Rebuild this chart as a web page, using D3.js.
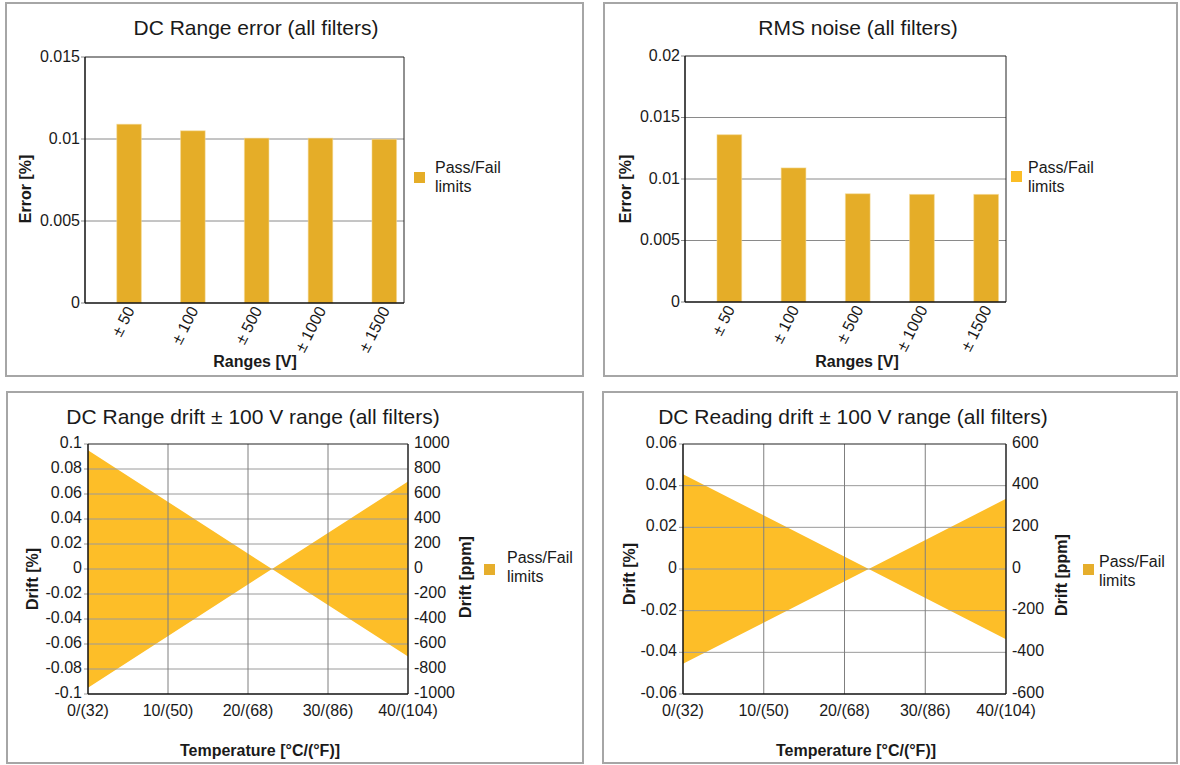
<!DOCTYPE html>
<html><head><meta charset="utf-8">
<script src="https://cdn.jsdelivr.net/npm/d3@7"></script>
<style>
body{margin:0;background:#fff}
svg{display:block}
text{font-family:"Liberation Sans",Arial,sans-serif;fill:#1a1a1a}
</style>
</head><body>
<svg id="c" width="1180" height="765"></svg>
<script>
// ---------- data ----------
const rangeCategories = ["± 50", "± 100", "± 500", "± 1000", "± 1500"];
const dcRangeError = [0.0109, 0.0105, 0.01005, 0.01005, 0.00998];
const rmsNoise = [0.0136, 0.0109, 0.0088, 0.00875, 0.00875];

const errorTicksDC = [0, 0.005, 0.01, 0.015];
const errorTickLabelsDC = ["0", "0.005", "0.01", "0.015"];
const errorTicksRMS = [0, 0.005, 0.01, 0.015, 0.02];
const errorTickLabelsRMS = ["0", "0.005", "0.01", "0.015", "0.02"];

const temperatures = [0, 23, 40];
const tempTicks = [0, 10, 20, 30, 40];
const tempTickLabels = ["0/(32)", "10/(50)", "20/(68)", "30/(86)", "40/(104)"];

const rangeDriftUpper = [0.095, 0, 0.07];
const rangeDriftLower = [-0.095, 0, -0.07];
const readingDriftUpper = [0.0455, 0, 0.0337];
const readingDriftLower = [-0.0455, 0, -0.0337];

const rangeDriftTicks = [0.1, 0.08, 0.06, 0.04, 0.02, 0, -0.02, -0.04, -0.06, -0.08, -0.1];
const rangeDriftTickLabels = ["0.1", "0.08", "0.06", "0.04", "0.02", "0", "-0.02", "-0.04", "-0.06", "-0.08", "-0.1"];
const rangePpmTicks = [1000, 800, 600, 400, 200, 0, -200, -400, -600, -800, -1000];
const rangePpmTickLabels = ["1000", "800", "600", "400", "200", "0", "-200", "-400", "-600", "-800", "-1000"];

const readingDriftTicks = [0.06, 0.04, 0.02, 0, -0.02, -0.04, -0.06];
const readingDriftTickLabels = ["0.06", "0.04", "0.02", "0", "-0.02", "-0.04", "-0.06"];
const readingPpmTicks = [600, 400, 200, 0, -200, -400, -600];
const readingPpmTickLabels = ["600", "400", "200", "0", "-200", "-400", "-600"];

const legendLabel = ["Pass/Fail", "limits"];

// ---------- drawing ----------
const svg = d3.select("#c");
svg.append("rect").attr("width", 1180).attr("height", 765).attr("fill", "#fff");

function panelBox(p) {
  svg.append("rect").attr("x", p.x).attr("y", p.y).attr("width", p.w).attr("height", p.h)
    .attr("fill", "#fff").attr("stroke", "#a6a6a6").attr("stroke-width", 2);
}

function legend(g, lg, color) {
  g.append("rect").attr("x", lg.x).attr("y", lg.y).attr("width", 11).attr("height", 11).attr("fill", color);
  g.append("text").attr("x", lg.tx).attr("y", lg.ty).attr("font-size", 16).text(legendLabel[0]);
  g.append("text").attr("x", lg.tx).attr("y", lg.ty + 19).attr("font-size", 16).text(legendLabel[1]);
}

function barChart(o) {
  panelBox(o.panel);
  const g = svg.append("g");
  const x = d3.scaleBand().domain(rangeCategories).range([o.l, o.r])
    .paddingInner(0.615).paddingOuter(0.3075).align(0.81);
  const y = d3.scaleLinear().domain([0, o.ticks[o.ticks.length - 1]]).range([o.b, o.t]);

  g.selectAll("line.grid").data(o.ticks).join("line")
    .attr("x1", o.l - 4)
    .attr("x2", (d, i) => (i === 0 || i === o.ticks.length - 1) ? o.l : o.r)
    .attr("y1", d => y(d)).attr("y2", d => y(d))
    .attr("stroke", "#8a8a8a").attr("stroke-width", 1);

  g.selectAll("rect.bar").data(o.values).join("rect")
    .attr("x", (d, i) => x(rangeCategories[i]))
    .attr("y", d => y(d))
    .attr("width", x.bandwidth())
    .attr("height", d => o.b - y(d))
    .attr("fill", "#E5AD28")
    .attr("stroke", "#f4d9928a").attr("stroke-width", 1);

  g.append("line").attr("x1", o.l).attr("x2", o.r).attr("y1", o.t).attr("y2", o.t).attr("stroke", "#222").attr("stroke-width", 1);
  g.append("line").attr("x1", o.r).attr("x2", o.r).attr("y1", o.t).attr("y2", o.b).attr("stroke", "#222").attr("stroke-width", 1);
  g.append("line").attr("x1", o.l).attr("x2", o.l).attr("y1", o.t).attr("y2", o.b).attr("stroke", "#111").attr("stroke-width", 1.5);
  g.append("line").attr("x1", o.l).attr("x2", o.r).attr("y1", o.b).attr("y2", o.b).attr("stroke", "#111").attr("stroke-width", 1.5);

  g.selectAll("text.yt").data(o.ticks).join("text")
    .attr("x", o.l - 5).attr("y", d => y(d) + 4.5)
    .attr("text-anchor", "end").attr("font-size", 16)
    .text((d, i) => o.tickLabels[i]);

  g.selectAll("text.xt").data(rangeCategories).join("text")
    .attr("text-anchor", "end").attr("font-size", 16)
    .attr("transform", d => `translate(${x(d) + x.bandwidth() / 2 + 6},${o.b + 7}) rotate(-63)`)
    .text(d => d);

  g.append("text").attr("x", o.titleX).attr("y", 35).attr("text-anchor", "middle").attr("font-size", 21).text(o.title);
  g.append("text").attr("x", o.titleX - 1).attr("y", 367).attr("text-anchor", "middle").attr("font-size", 16)
    .attr("font-weight", "bold").text("Ranges [V]");
  g.append("text").attr("transform", `translate(${o.ylabX},189) rotate(-90)`).attr("text-anchor", "middle")
    .attr("font-size", 16).attr("font-weight", "bold").text("Error [%]");

  legend(g, o.legend, o.legendColor);
}

function driftChart(o) {
  panelBox(o.panel);
  const g = svg.append("g");
  const x = d3.scaleLinear().domain([0, 40]).range([o.l, o.r]);
  const y = d3.scaleLinear().domain([o.ticks[o.ticks.length - 1], o.ticks[0]]).range([o.b, o.t]);
  const y2 = d3.scaleLinear().domain([o.ppmTicks[o.ppmTicks.length - 1], o.ppmTicks[0]]).range([o.b, o.t]);

  const area = d3.area()
    .x((d, i) => x(temperatures[i]))
    .y0((d, i) => y(o.lower[i]))
    .y1((d, i) => y(o.upper[i]));
  g.append("path").datum(o.upper).attr("d", area).attr("fill", "#FDBE28");

  g.selectAll("line.hg").data(o.ticks).join("line")
    .attr("x1", o.l - 4)
    .attr("x2", (d, i) => (i === 0 || i === o.ticks.length - 1) ? o.l : o.r)
    .attr("y1", d => y(d)).attr("y2", d => y(d))
    .attr("stroke", "#9a9a9a").attr("stroke-width", 1);
  g.selectAll("line.vg").data(tempTicks.slice(1, -1)).join("line")
    .attr("x1", d => x(d)).attr("x2", d => x(d))
    .attr("y1", o.t).attr("y2", o.b)
    .attr("stroke", "#7f7f7f").attr("stroke-width", 1);

  g.append("line").attr("x1", o.l).attr("x2", o.r).attr("y1", o.t).attr("y2", o.t).attr("stroke", "#222").attr("stroke-width", 1.2);
  g.append("line").attr("x1", o.r).attr("x2", o.r).attr("y1", o.t).attr("y2", o.b).attr("stroke", "#222").attr("stroke-width", 1.5);
  g.append("line").attr("x1", o.l).attr("x2", o.l).attr("y1", o.t).attr("y2", o.b).attr("stroke", "#111").attr("stroke-width", 1.5);
  g.append("line").attr("x1", o.l).attr("x2", o.r).attr("y1", o.b).attr("y2", o.b).attr("stroke", "#111").attr("stroke-width", 1.5);

  g.selectAll("text.yt").data(o.ticks).join("text")
    .attr("x", o.l - 6).attr("y", d => y(d) + 4)
    .attr("text-anchor", "end").attr("font-size", 16)
    .text((d, i) => o.tickLabels[i]);
  g.selectAll("text.y2t").data(o.ppmTicks).join("text")
    .attr("x", o.r + 6).attr("y", d => y2(d) + 3.5)
    .attr("text-anchor", "start").attr("font-size", 16)
    .text((d, i) => o.ppmTickLabels[i]);
  g.selectAll("text.xt").data(tempTicks).join("text")
    .attr("x", d => x(d)).attr("y", o.b + 22)
    .attr("text-anchor", "middle").attr("font-size", 16)
    .text((d, i) => tempTickLabels[i]);

  g.append("text").attr("x", o.titleX).attr("y", 424).attr("text-anchor", "middle").attr("font-size", 21).text(o.title);
  g.append("text").attr("x", o.xlabX).attr("y", 756).attr("text-anchor", "middle").attr("font-size", 16)
    .attr("font-weight", "bold").text("Temperature [°C/(°F)]");
  g.append("text").attr("transform", `translate(${o.ylabX},${o.ylabY}) rotate(-90)`).attr("text-anchor", "middle")
    .attr("font-size", 16).attr("font-weight", "bold").text("Drift [%]");
  g.append("text").attr("transform", `translate(${o.y2labX},${o.y2labY}) rotate(-90)`).attr("text-anchor", "middle")
    .attr("font-size", 16).attr("font-weight", "bold").text("Drift [ppm]");

  legend(g, o.legend, o.legendColor);
}

barChart({
  panel: {x: 6, y: 3, w: 577, h: 373},
  l: 85, r: 404, t: 57, b: 303,
  values: dcRangeError, ticks: errorTicksDC, tickLabels: errorTickLabelsDC,
  title: "DC Range error (all filters)", titleX: 256, ylabX: 31,
  legend: {x: 414, y: 172, tx: 435, ty: 173}, legendColor: "#E5AD27"
});

barChart({
  panel: {x: 604, y: 3, w: 573, h: 373},
  l: 685, r: 1006, t: 56, b: 302,
  values: rmsNoise, ticks: errorTicksRMS, tickLabels: errorTickLabelsRMS,
  title: "RMS noise (all filters)", titleX: 858, ylabX: 631,
  legend: {x: 1011, y: 171, tx: 1028, ty: 173}, legendColor: "#FBBD25"
});

driftChart({
  panel: {x: 7, y: 392, w: 576, h: 371},
  l: 88, r: 408, t: 444, b: 694,
  upper: rangeDriftUpper, lower: rangeDriftLower,
  ticks: rangeDriftTicks, tickLabels: rangeDriftTickLabels,
  ppmTicks: rangePpmTicks, ppmTickLabels: rangePpmTickLabels,
  title: "DC Range drift ± 100 V range (all filters)", titleX: 253, xlabX: 260,
  ylabX: 38, ylabY: 579, y2labX: 471, y2labY: 577,
  legend: {x: 484, y: 564, tx: 507, ty: 563}, legendColor: "#E6AE2C"
});

driftChart({
  panel: {x: 603, y: 392, w: 574, h: 371},
  l: 683, r: 1006, t: 444, b: 694,
  upper: readingDriftUpper, lower: readingDriftLower,
  ticks: readingDriftTicks, tickLabels: readingDriftTickLabels,
  ppmTicks: readingPpmTicks, ppmTickLabels: readingPpmTickLabels,
  title: "DC Reading drift ± 100 V range (all filters)", titleX: 853, xlabX: 856,
  ylabX: 635, ylabY: 574, y2labX: 1067, y2labY: 575,
  legend: {x: 1083, y: 564, tx: 1099, ty: 567}, legendColor: "#E6AE2C"
});
</script>
</body></html>
